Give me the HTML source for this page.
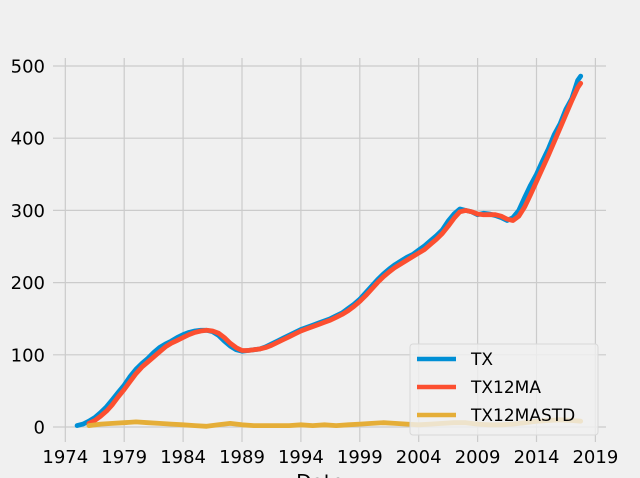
<!DOCTYPE html>
<html><head><meta charset="utf-8">
<style>
html,body{margin:0;padding:0;background:#f0f0f0;}
svg{display:block;font-family:"DejaVu Sans","Liberation Sans",sans-serif;}
</style></head>
<body>
<svg id="chart" width="640" height="478" viewBox="0 0 640 478">
<rect x="0" y="0" width="640" height="478" fill="#f0f0f0"/>
<g id="grid"></g>
<g id="series"></g>
<g id="axes"></g>
<text x="320" y="489" font-size="20" text-anchor="middle" fill="#000">Date</text>
<g>
<rect x="410" y="344" width="188" height="91" rx="3" fill="#f0f0f0" fill-opacity="0.8" stroke="#d8d8d8"/>
<g><line x1="417" y1="359" x2="456" y2="359" stroke="#008fd5" stroke-width="4.5"/><text x="471" y="365" font-size="17" fill="#000">TX</text></g>
<g><line x1="417" y1="387" x2="456" y2="387" stroke="#fc4f30" stroke-width="4.5"/><text x="471" y="393" font-size="17" fill="#000">TX12MA</text></g>
<g><line x1="417" y1="415" x2="456" y2="415" stroke="#e5ae38" stroke-width="4.5"/><text x="471" y="421" font-size="17" fill="#000">TX12MASTD</text></g>
</g>
</svg>
<script>
const txYears = [1975,1975.5,1976,1976.5,1977,1977.5,1978,1978.5,1979,1979.5,1980,1980.5,1981,1981.5,1982,1982.5,1983,1983.5,1984,1984.5,1985,1985.5,1986,1986.5,1987,1987.5,1988,1988.5,1989,1989.5,1990,1990.5,1991,1991.5,1992,1992.5,1993,1993.5,1994,1994.5,1995,1995.5,1996,1996.5,1997,1997.5,1998,1998.5,1999,1999.5,2000,2000.5,2001,2001.5,2002,2002.5,2003,2003.5,2004,2004.5,2005,2005.5,2006,2006.5,2007,2007.5,2008,2008.5,2009,2009.5,2010,2010.5,2011,2011.5,2012,2012.5,2013,2013.5,2014,2014.5,2015,2015.5,2016,2016.5,2017,2017.5,2017.75];
const txValues = [2,4,8,13,20,28,38,48,58,70,80,88,95,103,110,115,119,124,128,131,133,134,134,132,127,119,112,107,105,106,107,108,111,115,119,123,127,131,135,138,141,144,147,150,154,158,164,170,177,186,195,204,212,219,225,230,235,239,245,251,258,265,273,285,295,302,300,298,294,296,295,293,290,286,290,300,318,335,350,368,385,405,420,440,455,480,486];
const maYears = [1976,1976.5,1977,1977.5,1978,1978.5,1979,1979.5,1980,1980.5,1981,1981.5,1982,1982.5,1983,1983.5,1984,1984.5,1985,1985.5,1986,1986.5,1987,1987.5,1988,1988.5,1989,1989.5,1990,1990.5,1991,1991.5,1992,1992.5,1993,1993.5,1994,1994.5,1995,1995.5,1996,1996.5,1997,1997.5,1998,1998.5,1999,1999.5,2000,2000.5,2001,2001.5,2002,2002.5,2003,2003.5,2004,2004.5,2005,2005.5,2006,2006.5,2007,2007.5,2008,2008.5,2009,2009.5,2010,2010.5,2011,2011.5,2012,2012.5,2013,2013.5,2014,2014.5,2015,2015.5,2016,2016.5,2017,2017.5,2017.75];
const maValues = [5,9,15,22,31,42,52,63,74,83,90,97,104,111,116,120,124,128,131,133,134,133,130,124,116,110,106,106,107,108,110,113,117,121,125,129,133,136,139,142,145,148,152,156,161,167,174,182,191,200,208,215,221,226,231,236,241,246,253,260,268,278,289,298,300,298,295,294,294,294,292,288,286,292,305,322,340,358,376,395,414,433,452,470,476];
const stdYears = [1976,1977,1978,1979,1980,1981,1982,1983,1984,1985,1986,1987,1988,1989,1990,1991,1992,1993,1994,1995,1996,1997,1998,1999,2000,2001,2002,2003,2004,2005,2006,2007,2008,2009,2010,2011,2012,2013,2014,2015,2016,2017,2017.75];
const stdValues = [2,4,5,6,7,6,5,4,3,2,1,3,5,3,2,2,2,2,3,2,3,2,3,4,5,6,5,4,3,4,5,6,6,4,3,3,4,6,8,9,10,9,8];
const xTicks = [1974,1979,1984,1989,1994,1999,2004,2009,2014,2019];
const yTicks = [0,100,200,300,400,500];

const NS = "http://www.w3.org/2000/svg";
function X(yr){ return 65.3 + (yr-1974)*11.78; }
function Y(v){ return 427 - v*0.722; }
function mk(tag, attrs, parent){
  const e = document.createElementNS(NS, tag);
  for (const k in attrs) e.setAttribute(k, attrs[k]);
  parent.appendChild(e); return e;
}
const grid = document.getElementById('grid');
const axes = document.getElementById('axes');
const series = document.getElementById('series');
xTicks.forEach(t => {
  const l = mk('line', {x1:X(t), x2:X(t), y1:58, y2:442, stroke:'#cbcbcb', 'stroke-width':1.2}, grid);
  
  
  const tx = mk('text', {x:X(t), y:463, 'font-size':18, 'text-anchor':'middle', fill:'#000'}, axes);
  tx.textContent = t;
  
  
});
yTicks.forEach(t => {
  const l = mk('line', {x1:53, x2:606, y1:Y(t), y2:Y(t), stroke:'#cbcbcb', 'stroke-width':1.2}, grid);
  
  
  const tx = mk('text', {x:45, y:Y(t)+6.5, 'font-size':18, 'text-anchor':'end', fill:'#000'}, axes);
  tx.textContent = t;
  
  
});
function path(xs, vs, color){
  const d = xs.map((x,i)=>(i?'L':'M')+X(x).toFixed(1)+','+Y(vs[i]).toFixed(1)).join(' ');
  return mk('path', {d:d, fill:'none', stroke:color, 'stroke-width':4.8, 'stroke-linejoin':'round', 'stroke-linecap':'round'}, series);
}
const p1 = path(txYears, txValues, '#008fd5');


const p2 = path(maYears, maValues, '#fc4f30');


const p3 = path(stdYears, stdValues, '#e5ae38');


</script>
</body></html>
